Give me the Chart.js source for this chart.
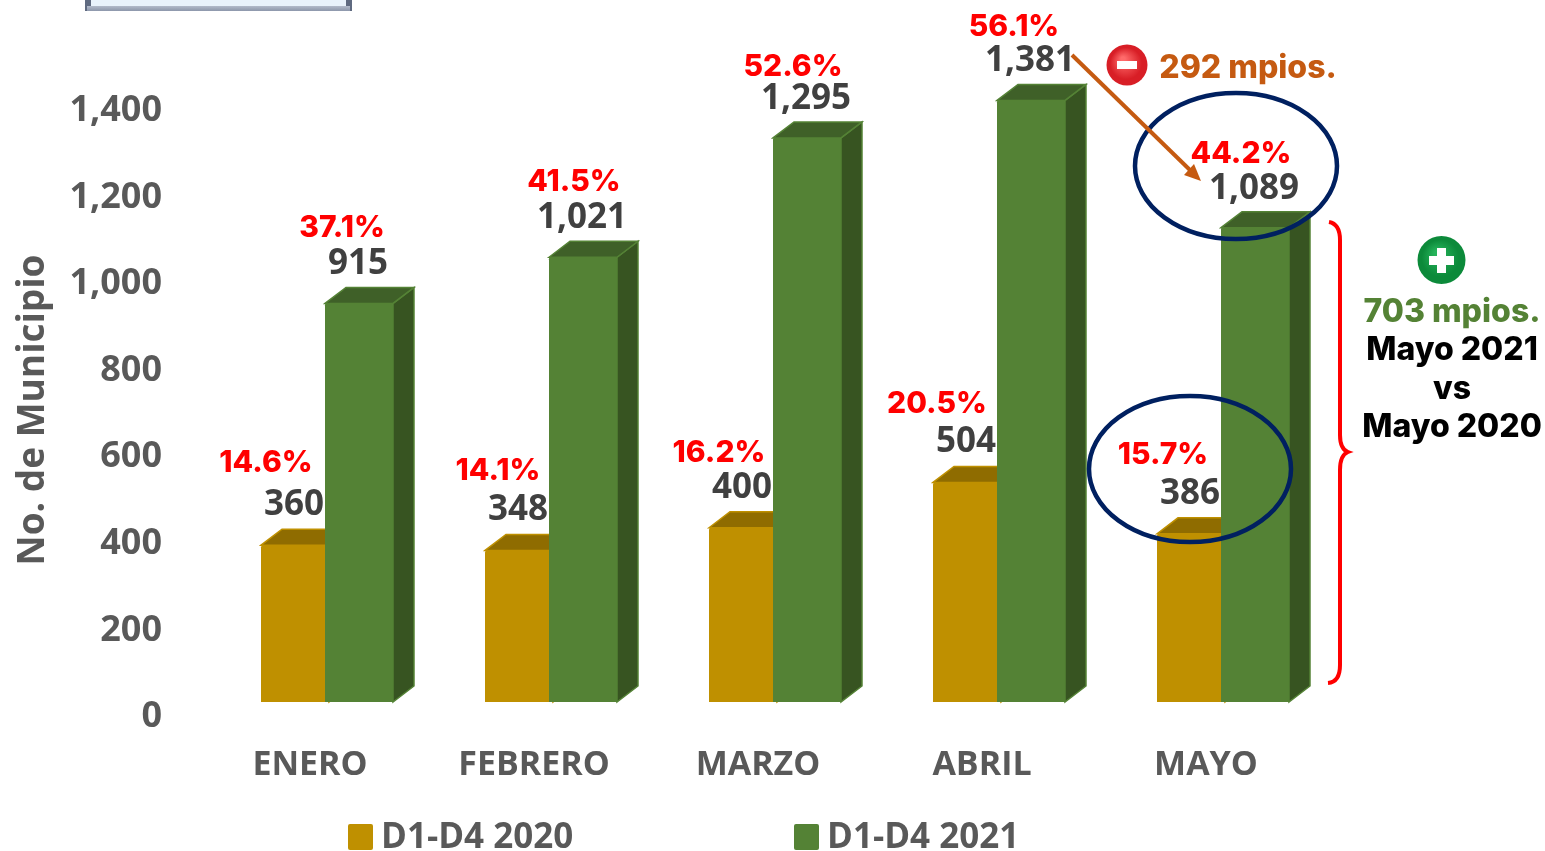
<!DOCTYPE html>
<html>
<head>
<meta charset="utf-8">
<title>D1-D4</title>
<script src="https://cdn.jsdelivr.net/npm/chart.js@4/dist/chart.umd.min.js"></script>
<style>
	html, body { margin: 0; padding: 0; background: #fff; overflow: hidden; }
	canvas { display: block; }
</style>
</head>
<body>
<canvas id="mycanvas" width="1545" height="851"></canvas>
<script>
var meses = ['ENERO', 'FEBRERO', 'MARZO', 'ABRIL', 'MAYO'];
var d2020 = [360, 348, 400, 504, 386];
var d2021 = [915, 1021, 1295, 1381, 1089];
var pct2020 = ['14.6%', '14.1%', '16.2%', '20.5%', '15.7%'];
var pct2021 = ['37.1%', '41.5%', '52.6%', '56.1%', '44.2%'];
var yTicks = [0, 200, 400, 600, 800, 1000, 1200, 1400];

// where the percentages sit, measured from the bar top
var pctOff2020 = [[-29, -82], [-21, -79], [-24, -75], [-30, -78], [-28, -79]];
var pctOff2021 = [[-17, -75], [-9, -75], [-14, -71], [-17, -73], [-14, -74]];

var ORO = '#bf9000', ORO_TOP = '#8f6c00', ORO_SIDE = '#7f6000';
var VERDE = '#548235', VERDE_TOP = '#3f6028', VERDE_SIDE = '#375421';
var GRIS = '#595959';
var DX = 21, DY = 16;

function fuente(size, family, peso) {
	return (peso || 'bold') + ' ' + size + 'px "' + family + '", sans-serif';
}

function cara(ctx, pts, color, borde) {
	ctx.beginPath();
	ctx.moveTo(pts[0][0], pts[0][1]);
	for (var i = 1; i < pts.length; i++) {
		ctx.lineTo(pts[i][0], pts[i][1]);
	}
	ctx.closePath();
	ctx.fillStyle = color;
	ctx.fill();
	ctx.lineWidth = 1.5;
	ctx.strokeStyle = borde;
	ctx.stroke();
}

function caras(ctx, el, top, side, borde) {
	var x0 = el.x - el.width / 2;
	var x1 = el.x + el.width / 2;
	cara(ctx, [[x1, el.y], [x1 + DX, el.y - DY], [x1 + DX, el.base - DY], [x1, el.base]], side, borde);
	cara(ctx, [[x0, el.y], [x0 + DX, el.y - DY], [x1 + DX, el.y - DY], [x1, el.y]], top, borde);
}

function texto(ctx, str, x, y, font, color) {
	ctx.font = font;
	ctx.fillStyle = color;
	ctx.textAlign = 'center';
	ctx.textBaseline = 'middle';
	ctx.fillText(str, x, y);
}

// 3D faces for the bars, the green one goes over the gold one
var barras3d = {
	id: 'barras3d',
	afterDatasetsDraw: function(chart) {
		var ctx = chart.ctx;
		var oro = chart.getDatasetMeta(0).data;
		var verde = chart.getDatasetMeta(1).data;
		ctx.save();
		for (var i = 0; i < oro.length; i++) {
			caras(ctx, oro[i], ORO_TOP, ORO_SIDE, ORO);
		}
		for (var j = 0; j < verde.length; j++) {
			caras(ctx, verde[j], VERDE_TOP, VERDE_SIDE, VERDE);
			verde[j].draw(ctx);
		}
		ctx.restore();
	}
};

var etiquetas = {
	id: 'etiquetas',
	afterDatasetsDraw: function(chart) {
		var ctx = chart.ctx;
		var oro = chart.getDatasetMeta(0).data;
		var verde = chart.getDatasetMeta(1).data;
		var fVal = fuente(35, 'Open Sans');
		var fPct = fuente(30, 'Inter', '800');
		ctx.save();
		for (var i = 0; i < meses.length; i++) {
			texto(ctx, d2020[i].toLocaleString('en-US'), oro[i].x - 1, oro[i].y - 40, fVal, '#404040');
			texto(ctx, d2021[i].toLocaleString('en-US'), verde[i].x - 1, verde[i].y - 39, fVal, '#404040');
			texto(ctx, pct2020[i], oro[i].x + pctOff2020[i][0], oro[i].y + pctOff2020[i][1], fPct, '#ff0000');
			texto(ctx, pct2021[i], verde[i].x + pctOff2021[i][0], verde[i].y + pctOff2021[i][1], fPct, '#ff0000');
		}
		ctx.restore();
	}
};

var leyenda = {
	id: 'leyenda',
	afterDraw: function(chart) {
		var ctx = chart.ctx;
		var xs = [348, 794];
		ctx.save();
		chart.data.datasets.forEach(function(ds, i) {
			ctx.fillStyle = ds.backgroundColor;
			ctx.beginPath();
			ctx.roundRect(xs[i], 824, 25, 26, 2);
			ctx.fill();
			ctx.font = fuente(35, 'Open Sans');
			ctx.fillStyle = GRIS;
			ctx.textAlign = 'left';
			ctx.textBaseline = 'middle';
			ctx.fillText(ds.label, xs[i] + 33, 838);
		});
		ctx.restore();
	}
};

function icono(ctx, x, y, r, claro, oscuro) {
	var g = ctx.createRadialGradient(x - r * 0.2, y - r * 0.3, r * 0.1, x, y, r);
	g.addColorStop(0, claro);
	g.addColorStop(0.75, oscuro);
	g.addColorStop(1, oscuro);
	ctx.fillStyle = g;
	ctx.beginPath();
	ctx.arc(x, y, r, 0, Math.PI * 2);
	ctx.fill();
	ctx.fillStyle = '#fff';
}

// the notes on top of the chart: ellipses, arrow, bracket, icons, box
var notas = {
	id: 'notas',
	afterDraw: function(chart) {
		var ctx = chart.ctx;
		ctx.save();

		// piece of box cut by the top of the picture
		var g = ctx.createLinearGradient(0, 0, 0, 11);
		g.addColorStop(0, '#dfe6f0');
		g.addColorStop(1, '#8d97ab');
		ctx.fillStyle = '#5f6a80';
		ctx.fillRect(85, 0, 267, 11);
		ctx.fillStyle = g;
		ctx.fillRect(87, 6, 263, 5);
		ctx.fillStyle = '#e9f3fc';
		ctx.fillRect(91, 0, 255, 6);

		// ellipses
		ctx.strokeStyle = '#002060';
		ctx.lineWidth = 4.5;
		ctx.beginPath();
		ctx.ellipse(1236, 166, 101, 73, 0, 0, Math.PI * 2);
		ctx.stroke();
		ctx.beginPath();
		ctx.ellipse(1190, 469, 101, 73, 0, 0, Math.PI * 2);
		ctx.stroke();

		// arrow
		ctx.strokeStyle = '#c55a11';
		ctx.fillStyle = '#c55a11';
		ctx.lineWidth = 4;
		ctx.beginPath();
		ctx.moveTo(1072, 55);
		ctx.lineTo(1192, 172);
		ctx.stroke();
		ctx.beginPath();
		ctx.moveTo(1201, 181);
		ctx.lineTo(1184, 175);
		ctx.lineTo(1194, 164);
		ctx.closePath();
		ctx.fill();

		// bracket
		ctx.strokeStyle = '#ff0000';
		ctx.lineWidth = 4;
		ctx.beginPath();
		ctx.moveTo(1329, 222);
		ctx.quadraticCurveTo(1340, 224, 1340, 240);
		ctx.lineTo(1340, 435);
		ctx.quadraticCurveTo(1340, 449, 1348, 452);
		ctx.quadraticCurveTo(1340, 455, 1340, 470);
		ctx.lineTo(1340, 665);
		ctx.quadraticCurveTo(1340, 682, 1328, 683);
		ctx.stroke();

		// icons
		icono(ctx, 1127, 65, 20.5, '#ff6a6a', '#d81e26');
		ctx.fillRect(1117, 61, 20, 8);
		icono(ctx, 1441.5, 260, 24, '#25b35a', '#0c8a3a');
		ctx.fillRect(1437, 248, 9, 25);
		ctx.fillRect(1429, 256, 25, 9);

		var fNota = fuente(32, 'Inter', '800');
		texto(ctx, '292 mpios.', 1248, 68, fNota, '#c55a11');
		texto(ctx, '703 mpios.', 1452, 312, fNota, VERDE);
		texto(ctx, 'Mayo 2021', 1452, 350, fNota, '#000000');
		texto(ctx, 'vs', 1452, 389, fNota, '#000000');
		texto(ctx, 'Mayo 2020', 1452, 427, fNota, '#000000');

		ctx.restore();
	}
};

var chartdata = {
	labels: meses,
	datasets: [
		{
			label: 'D1-D4 2020',
			data: d2020,
			backgroundColor: ORO,
			borderRadius: 2,
			yAxisID: 'y'
		},
		{
			label: 'D1-D4 2021',
			data: d2021,
			backgroundColor: VERDE,
			borderRadius: 2,
			yAxisID: 'y'
		}
	]
};

var ctx = document.getElementById('mycanvas');
var barGraph = new Chart(ctx, {
	type: 'bar',
	data: chartdata,
	plugins: [barras3d, etiquetas, leyenda, notas],
	options: {
		responsive: false,
		animation: false,
		layout: { padding: { top: 90, right: 210, left: 0, bottom: 0 } },
		categoryPercentage: 0.5714,
		barPercentage: 1.0625,
		plugins: {
			legend: { display: false },
			tooltip: { enabled: false }
		},
		scales: {
			x: {
				grid: { display: false, drawTicks: false },
				border: { display: false },
				afterFit: function(axis) { axis.height = 121; },
				ticks: {
					color: GRIS,
					font: { family: 'Open Sans', size: 34, weight: 'bold' },
					padding: 15,
					labelOffset: -17,
					maxRotation: 0,
					autoSkip: false
				}
			},
			// bars scale, 702 px is the floor of the bars
			y: {
				display: false,
				min: -64.3,
				max: 1405
			},
			// labelled scale, sits a bit lower than the bars as in a 3D chart
			yLabels: {
				position: 'left',
				min: -30,
				max: 1448,
				grid: { display: false, drawTicks: false },
				border: { display: false },
				afterBuildTicks: function(axis) {
					axis.ticks = yTicks.map(function(v) { return { value: v }; });
				},
				afterFit: function(axis) { axis.width = 215; },
				ticks: {
					color: GRIS,
					font: { family: 'Open Sans', size: 36, weight: 'bold' },
					padding: 53,
					autoSkip: false,
					callback: function(v) { return v.toLocaleString('en-US'); }
				},
				title: {
					display: true,
					text: 'No. de Municipio',
					color: GRIS,
					font: { family: 'Open Sans', size: 37, weight: 'bold' },
					padding: { top: 11, bottom: 0 }
				}
			}
		}
	}
});
</script>
</body>
</html>
